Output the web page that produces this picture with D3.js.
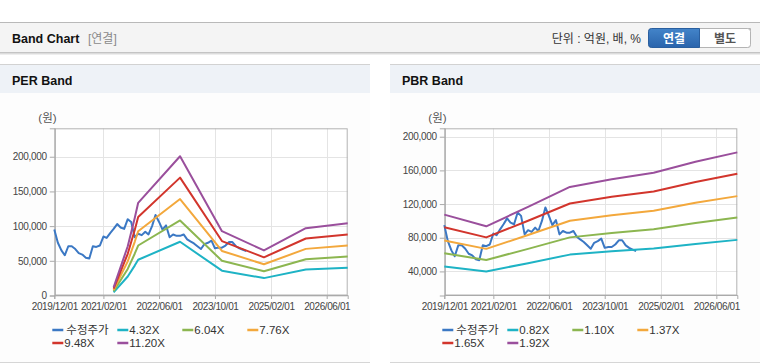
<!DOCTYPE html>
<html><head><meta charset="utf-8">
<script src="https://cdn.jsdelivr.net/npm/d3@7"></script>
<style>
body{margin:0;background:#fff;}
svg{display:block;font-family:"Liberation Sans","Noto Sans CJK KR",sans-serif;}
</style></head><body>
<svg id="c" width="760" height="364"></svg>
<script>
// ---------- data ----------
const priceMonths = ["2019-12",
 "2020-01","2020-02","2020-03","2020-04","2020-05","2020-06","2020-07","2020-08","2020-09","2020-10","2020-11","2020-12",
 "2021-01","2021-02","2021-03","2021-04","2021-05","2021-06","2021-07","2021-08","2021-09","2021-10","2021-11","2021-12",
 "2022-01","2022-02","2022-03","2022-04","2022-05","2022-06","2022-07","2022-08","2022-09","2022-10","2022-11","2022-12",
 "2023-01","2023-02","2023-03","2023-04","2023-05","2023-06","2023-07","2023-08","2023-09","2023-10","2023-11","2023-12",
 "2024-01","2024-02","2024-03","2024-04","2024-05","2024-06","2024-07"];
const price = [95000,76000,65000,58000,71000,71000,67000,61000,59000,54500,53300,71000,70000,
 72000,85000,83000,90000,96000,103000,98000,96000,110000,106000,84000,89000,
 87000,92000,88000,100000,116000,106000,95000,101000,84000,88000,86000,86000,
 88000,81000,78000,75000,71000,67000,74000,76000,79000,68000,69000,69000,
 72000,77000,77000,71000,68000,66000,64000];

const perMonths = ["2021-05","2021-09","2021-11","2021-12","2022-12","2023-12","2024-12","2025-12","2026-12"];
const per432  = [4536, 27384, 43083, 51533, 77414, 35757, 25073, 37416, 40116];
const per604  = [6342, 38288, 60237, 72051, 108237, 49993, 35056, 52312, 56087];
const per776  = [8148, 49191, 77390, 92569, 139059, 64230, 45039, 67209, 72059];
const per948  = [9954, 60094, 94544, 113087, 169882, 78466, 55022, 82106, 88031];
const per1120 = [11760, 70997, 111698, 133605, 200704, 92702, 65005, 97003, 104003];

const pbrMonths = ["2019-12","2020-12","2021-12","2022-12","2023-12","2024-12","2025-12","2026-12"];
const pbr082 = [45912, 39975, 49799, 59963, 63894, 67092, 72693, 77474];
const pbr110 = [61589, 53625, 66803, 80438, 85712, 90002, 97515, 103928];
const pbr137 = [76706, 66788, 83200, 100181, 106750, 112093, 121451, 129438];
const pbr165 = [92384, 80438, 100205, 120656, 128568, 135003, 146273, 155892];
const pbr192 = [107501, 93600, 116602, 140400, 149606, 157094, 170208, 181402];

const xTickMonths = ["2019-12","2021-02","2022-06","2023-10","2025-02","2026-06"];
const xTickLabels = ["2019/12/01","2021/02/01","2022/06/01","2023/10/01","2025/02/01","2026/06/01"];
const perYTicks = [0,50000,100000,150000,200000];
const pbrYTicks = [40000,80000,120000,160000,200000];
const perNames = ["수정주가","4.32X","6.04X","7.76X","9.48X","11.20X"];
const pbrNames = ["수정주가","0.82X","1.10X","1.37X","1.65X","1.92X"];
const colors = ["#3b78c4","#1eb3c5","#8cb650","#f3a83c","#d2352c","#9a4f9c"];

// ---------- drawing ----------
const parse = d3.timeParse("%Y-%m");
const svg = d3.select("#c");

// top header bar
svg.append("rect").attr("x",0).attr("y",22).attr("width",760).attr("height",31).attr("fill","#f4f4f4");
svg.append("line").attr("x1",0).attr("x2",760).attr("y1",22.5).attr("y2",22.5).attr("stroke","#b9b9b9");
svg.append("line").attr("x1",0).attr("x2",760).attr("y1",52.5).attr("y2",52.5).attr("stroke","#c4c4c4");
svg.append("rect").attr("x",0).attr("y",53).attr("width",760).attr("height",1).attr("fill","#dcdcdc");
svg.append("rect").attr("x",0).attr("y",54).attr("width",760).attr("height",1).attr("fill","#eeeeee");
svg.append("text").attr("x",12).attr("y",43).attr("font-size",12.5).attr("font-weight","bold").attr("fill","#111").text("Band Chart");
svg.append("text").attr("x",88).attr("y",43).attr("font-size",12).attr("fill","#8a8a8a").text("[연결]");
svg.append("text").attr("x",641).attr("y",42.5).attr("text-anchor","end").attr("font-size",12).attr("fill","#333").text("단위 : 억원, 배, %");
// toggle buttons
const defs = svg.append("defs");
const grad = defs.append("linearGradient").attr("id","btnBlue").attr("x1",0).attr("y1",0).attr("x2",0).attr("y2",1);
grad.append("stop").attr("offset","0%").attr("stop-color","#4384c9");
grad.append("stop").attr("offset","100%").attr("stop-color","#2a64ac");
svg.append("path").attr("d","M652.5,28.5 H750.5 a3,3 0 0 1 0,0 V44.5 a3,3 0 0 1 -3,3 H651.5 a3,3 0 0 1 -3,-3 V31.5 a3,3 0 0 1 3,-3 Z")
  .attr("fill","#fff").attr("stroke","#b4b4b4");
svg.append("path").attr("d","M699.5,28.5 H747.5 a3,3 0 0 1 3,3 V44.5 a3,3 0 0 1 -3,3 H699.5 Z").attr("fill","#fff").attr("stroke","#b4b4b4");
svg.append("path").attr("d","M651.5,28.5 H699.5 V47.5 H651.5 a3,3 0 0 1 -3,-3 V31.5 a3,3 0 0 1 3,-3 Z").attr("fill","url(#btnBlue)").attr("stroke","#2a5f9f");
svg.append("text").attr("x",674).attr("y",42.5).attr("text-anchor","middle").attr("font-size",12).attr("font-weight","bold").attr("fill","#fff").text("연결");
svg.append("text").attr("x",725).attr("y",42.5).attr("text-anchor","middle").attr("font-size",12).attr("font-weight","bold").attr("fill","#555").text("별도");

function drawPanel(o) {
  const g = svg.append("g");
  // panel background and header
  g.append("rect").attr("x",o.px).attr("y",64).attr("width",370).attr("height",298).attr("fill","#fdfdfd");
  g.append("rect").attr("x",o.px).attr("y",64).attr("width",370).attr("height",29).attr("fill","#eef2f7");
  g.append("line").attr("x1",o.px).attr("x2",o.px+370).attr("y1",64.5).attr("y2",64.5).attr("stroke","#d2d2d2");
  g.append("line").attr("x1",o.px).attr("x2",o.px+370).attr("y1",362.5).attr("y2",362.5).attr("stroke","#d6d6d6");
  g.append("text").attr("x",o.px+12).attr("y",84.5).attr("font-size",12.5).attr("font-weight","bold").attr("fill","#111").text(o.title);

  const x = d3.scaleTime().domain([parse("2019-12"), parse("2026-12")]).range([o.left, o.right]);
  const y = d3.scaleLinear().domain(o.yDomain).range([o.bottom, o.top]);
  const tickDates = xTickMonths.map(parse);

  // plot background
  g.append("rect").attr("x",o.left).attr("y",o.top).attr("width",o.right-o.left).attr("height",o.bottom-o.top).attr("fill","#fff");
  // grid
  g.selectAll(".vg").data(tickDates.slice(1)).join("line")
    .attr("x1",d=>Math.round(x(d))+0.5).attr("x2",d=>Math.round(x(d))+0.5)
    .attr("y1",o.top).attr("y2",o.bottom).attr("stroke","#e4e4e4");
  g.selectAll(".hg").data(o.yTicks).join("line")
    .attr("x1",o.left).attr("x2",o.right)
    .attr("y1",d=>Math.round(y(d))+0.5).attr("y2",d=>Math.round(y(d))+0.5).attr("stroke","#e4e4e4");
  g.append("rect").attr("x",o.left+0.5).attr("y",o.top+0.5).attr("width",o.right-o.left-1).attr("height",o.bottom-o.top-1)
    .attr("fill","none").attr("stroke","#b3b3b3");

  // axes
  const ax = g.append("g").attr("transform",`translate(0,${o.bottom-0.5})`)
    .call(d3.axisBottom(x).tickValues(tickDates).tickFormat((d,i)=>xTickLabels[i]).tickSize(4).tickPadding(4));
  ax.select(".domain").attr("stroke","#aaa");
  ax.selectAll(".tick line").attr("stroke","#aaa");
  ax.selectAll("text").attr("fill","#444").attr("font-size",10).attr("letter-spacing","-0.4px").attr("font-family","Liberation Sans, sans-serif");
  const ay = g.append("g").attr("transform",`translate(${o.left+0.5},0)`)
    .call(d3.axisLeft(y).tickValues(o.yTicks).tickFormat(d3.format(",")).tickSize(5).tickPadding(3));
  ay.select(".domain").attr("stroke","#aaa");
  ay.selectAll(".tick line").attr("stroke","#aaa");
  ay.selectAll("text").attr("fill","#444").attr("font-size",10).attr("letter-spacing","-0.3px").attr("font-family","Liberation Sans, sans-serif");
  g.append("text").attr("x",o.left-16).attr("y",122).attr("font-size",11.5).attr("fill","#555").text("(원)");

  // lines
  const line = d3.line().x(d=>x(d[0])).y(d=>y(d[1]));
  const seriesData = [priceMonths.map((m,i)=>[parse(m),price[i]])]
    .concat(o.bands.map(b=>o.bandMonths.map((m,i)=>[parse(m),b[i]])));
  g.selectAll(".ser").data(seriesData).join("path")
    .attr("d",line).attr("fill","none").attr("stroke",(d,i)=>colors[i])
    .attr("stroke-width",2).attr("stroke-linejoin","round");

  // legend
  const leg = g.selectAll(".lg").data(o.names).join("g")
    .attr("transform",(d,i)=>`translate(${o.left-2+(i%4)*65},${i<4?330:343})`);
  leg.append("line").attr("x1",0).attr("x2",11).attr("y1",0).attr("y2",0).attr("stroke",(d,i)=>colors[i]).attr("stroke-width",2.5);
  leg.append("text").attr("x",(d,i)=>i===0?14:12).attr("y",4).attr("font-size",11.5).attr("fill","#333").text(d=>d);
}

drawPanel({px:0,title:"PER Band",left:54.3,right:347.7,top:128.3,bottom:295.5,yDomain:[0,241000],yTicks:perYTicks,
  bandMonths:perMonths,bands:[per432,per604,per776,per948,per1120],names:perNames});
drawPanel({px:390,title:"PBR Band",left:444.3,right:737.3,top:128.3,bottom:295.5,yDomain:[11400,210000],yTicks:pbrYTicks,
  bandMonths:pbrMonths,bands:[pbr082,pbr110,pbr137,pbr165,pbr192],names:pbrNames});
</script>
</body></html>
